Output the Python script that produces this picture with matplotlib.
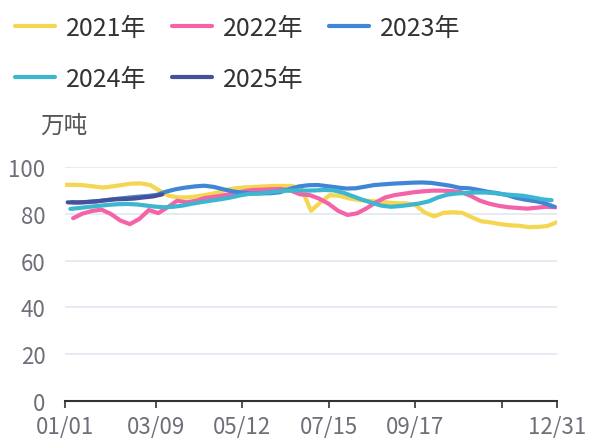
import numpy as np
import pandas as pd
import matplotlib
matplotlib.use("Agg")
import matplotlib.pyplot as plt

plt.rcParams['font.family'] = ['Noto Sans CJK SC', 'DejaVu Sans']

# weekly values (万吨), each year starts on its first Friday
start_dates = ['2021-01-01', '2022-01-07', '2023-01-06', '2024-01-05', '2025-01-03']
labels = ['2021年', '2022年', '2023年', '2024年', '2025年']
colors = ['#f5d650', '#f462a8', '#3f86d6', '#3db6cf', '#46519b']

y2021 = [92.4, 92.4, 92.2, 91.7, 91.2, 91.7, 92.3, 92.9, 93.0, 92.3,
         89.9, 87.7, 87.0, 87.0, 87.5, 88.2, 88.9, 90.2, 90.9, 91.3,
         91.5, 91.7, 91.9, 91.9, 91.9, 90.6, 81.3, 84.9, 88.0, 87.7,
         86.6, 85.9, 85.6, 85.2, 84.9, 84.5, 84.5, 83.9, 80.6, 78.9,
         80.4, 80.7, 80.4, 78.5, 76.8, 76.3, 75.6, 75.1, 74.9, 74.3,
         74.4, 74.8, 76.4]
y2022 = [78.1, 80.1, 81.2, 81.8, 79.9, 77.1, 75.6, 77.8, 81.6, 80.3,
         82.8, 85.6, 84.9, 85.6, 86.8, 87.3, 88.0, 88.7, 89.6, 90.2,
         90.3, 90.5, 90.6, 89.9, 88.3, 88.0, 86.5, 84.3, 81.3, 79.5,
         80.2, 82.3, 84.9, 87.0, 88.0, 88.6, 89.2, 89.6, 89.9, 89.9,
         89.7, 89.3, 87.7, 85.6, 84.3, 83.4, 82.8, 82.5, 82.2, 82.6,
         83.0, 82.8]
y2023 = [85.0, 84.9, 85.2, 85.5, 86.0, 86.5, 86.9, 87.3, 87.6, 88.1,
         89.5, 90.5, 91.2, 91.7, 92.0, 91.5, 90.5, 89.6, 89.0, 88.7,
         88.7, 88.8, 89.2, 90.6, 91.7, 92.2, 92.3, 91.8, 91.3, 90.8,
         90.9, 91.6, 92.3, 92.6, 92.9, 93.1, 93.3, 93.4, 93.2, 92.6,
         92.0, 91.1, 90.9, 90.2, 89.4, 88.8, 88.0, 86.8, 86.0, 85.4,
         84.5, 83.0]
y2024 = [82.1, 82.5, 83.0, 83.4, 83.8, 84.1, 84.2, 84.0, 83.6, 83.1,
         82.8, 83.0, 83.5, 84.3, 85.0, 85.6, 86.2, 86.9, 87.8, 88.5,
         88.7, 89.1, 89.6, 89.9, 90.0, 89.9, 90.0, 90.2, 90.0, 89.0,
         87.5, 86.0, 84.7, 83.5, 83.0, 83.3, 83.8, 84.4, 85.3, 87.0,
         88.2, 88.7, 88.9, 89.1, 89.1, 88.8, 88.3, 88.0, 87.7, 87.0,
         86.2, 85.8]
y2025 = [84.9, 84.8, 85.0, 85.3, 85.8, 86.2, 86.3, 86.5, 87.0, 87.4, 88.3]
series = [y2021, y2022, y2023, y2024, y2025]

tick_days = [0, 67, 131, 195, 259, 323, 364]
tick_labels = ['01/01', '03/09', '05/12', '07/15', '09/17', '', '12/31']
yticks = [0, 20, 40, 60, 80, 100]


def day_of_year(start, n):
    """day number on a 365-day axis for n weekly points"""
    d = pd.date_range(start, periods=n, freq='7D')
    leap_shift = (d.is_leap_year & (d.month > 2)).astype(int)
    return np.asarray(d.dayofyear - 1 - leap_shift)


fig = plt.figure(figsize=(5.91, 4.39), dpi=100)
ax = fig.add_axes([65 / 591, 1 - 402 / 439, 492 / 591, 234 / 439])

lines = []
for start, vals, lab, col in zip(start_dates, series, labels, colors):
    x = day_of_year(start, len(vals))
    ln, = ax.plot(x, vals, color=col, lw=3, label=lab, solid_capstyle='round',
                  solid_joinstyle='round')
    lines.append(ln)

ax.set_xlim(0, 364)
ax.set_ylim(0, 100)
ax.set_xticks(tick_days)
ax.set_xticklabels(tick_labels)
ax.set_yticks(yticks)

for s in ['top', 'right', 'left']:
    ax.spines[s].set_visible(False)
ax.spines['bottom'].set_color('#333333')
ax.spines['bottom'].set_linewidth(1.5)
ax.tick_params(axis='x', length=5, width=1.2, color='#333333', pad=5,
               labelsize=16, labelcolor='#6e7079')
ax.tick_params(axis='y', length=0, pad=14, labelsize=16, labelcolor='#6e7079')
for v in yticks[1:]:
    ax.axhline(v, color='#e0e6f1', lw=1.2, zorder=0)

fig.text(64 / 591, 1 - 126 / 439, '万吨', ha='center', va='center',
         fontsize=17, color='#555555')

# legend is filled column by column, so reorder to get rows 2021-2023 / 2024-2025
order = [0, 3, 1, 4, 2]
fig.legend(handles=[lines[i] for i in order], loc='upper left',
           bbox_to_anchor=(15 / 591, 1 - 16 / 439),
           ncol=3, frameon=False, fontsize=18, handlelength=1.6, handletextpad=0.45,
           columnspacing=1.0, labelspacing=1.0, borderaxespad=0, borderpad=0,
           labelcolor='#333333')

fig.savefig('out.png', dpi=100)
